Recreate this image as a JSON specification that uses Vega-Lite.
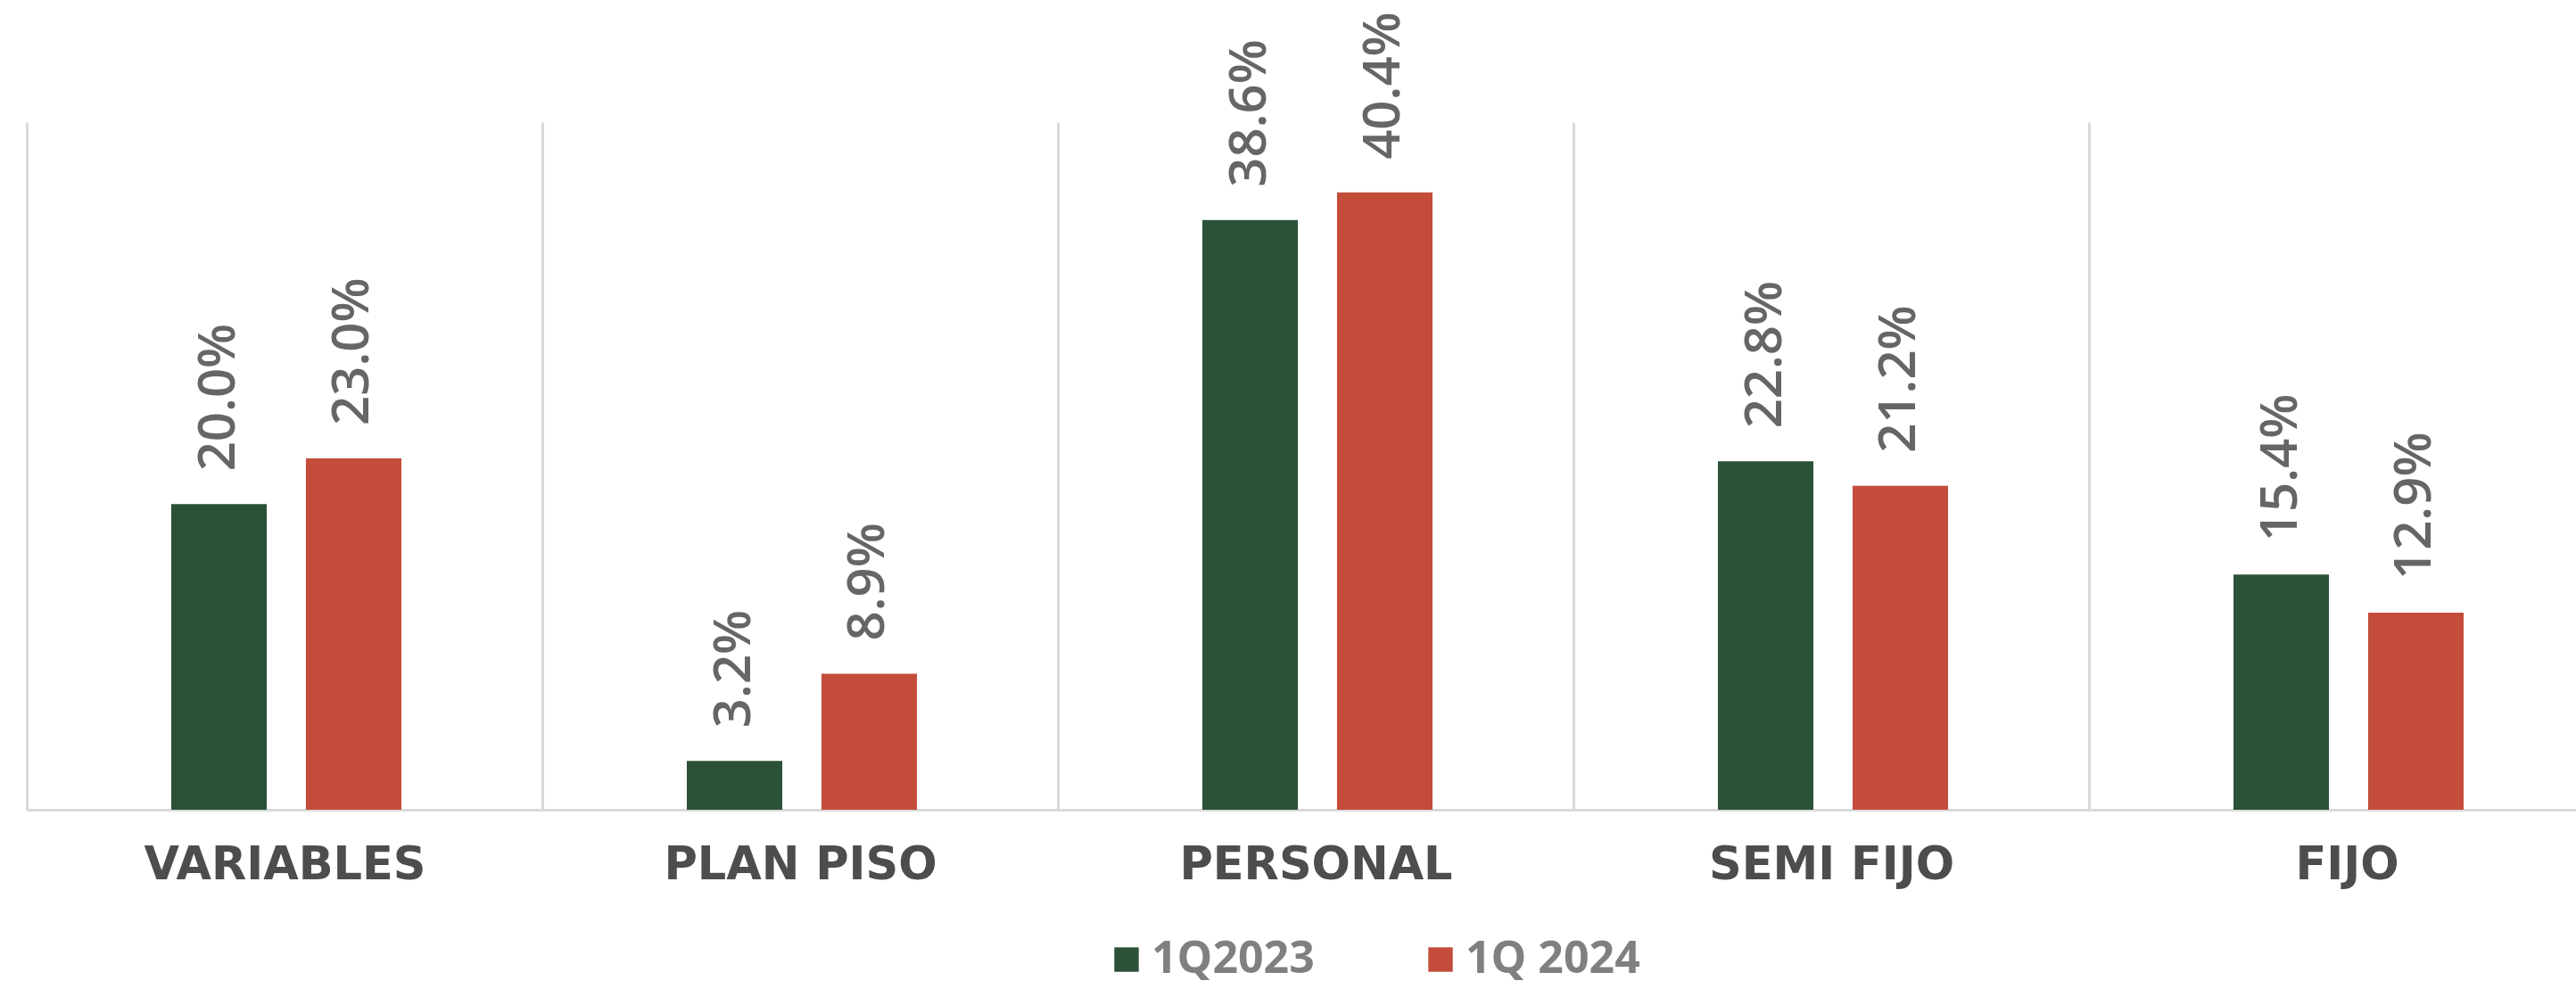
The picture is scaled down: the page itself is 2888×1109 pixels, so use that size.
{
  "$schema": "https://vega.github.io/schema/vega-lite/v6.json",
  "width": 2858,
  "height": 771,
  "autosize": {"type": "none"},
  "padding": {"left": 30, "top": 137, "right": 0, "bottom": 201},
  "background": "white",
  "config": {"view": {"stroke": null}},
  "data": {
    "values": [
      {"cat": "VARIABLES", "period": "1Q2023", "value": 0.200},
      {"cat": "VARIABLES", "period": "1Q 2024", "value": 0.230},
      {"cat": "PLAN PISO", "period": "1Q2023", "value": 0.032},
      {"cat": "PLAN PISO", "period": "1Q 2024", "value": 0.089},
      {"cat": "PERSONAL", "period": "1Q2023", "value": 0.386},
      {"cat": "PERSONAL", "period": "1Q 2024", "value": 0.404},
      {"cat": "SEMI FIJO", "period": "1Q2023", "value": 0.228},
      {"cat": "SEMI FIJO", "period": "1Q 2024", "value": 0.212},
      {"cat": "FIJO", "period": "1Q2023", "value": 0.154},
      {"cat": "FIJO", "period": "1Q 2024", "value": 0.129}
    ]
  },
  "encoding": {
    "x": {
      "field": "cat",
      "type": "nominal",
      "sort": ["VARIABLES", "PLAN PISO", "PERSONAL", "SEMI FIJO", "FIJO"],
      "scale": {"range": [0, 2890], "paddingInner": 0, "paddingOuter": 0},
      "axis": {
        "title": null,
        "labelAngle": 0,
        "labelFont": "DejaVu Sans",
        "labelFontWeight": "bold",
        "labelFontSize": 51,
        "labelLimit": 0,
        "labelColor": "#4d4d4d",
        "labelPadding": 37,
        "labelBaseline": "top",
        "ticks": false,
        "domainColor": "#d9d9d9",
        "domainWidth": 3,
        "grid": true,
        "gridColor": "#d9d9d9",
        "gridWidth": 3,
        "tickBand": "extent"
      }
    },
    "xOffset": {
      "field": "period",
      "sort": ["1Q2023", "1Q 2024"],
      "scale": {"range": [162, 420], "paddingInner": 0.291, "paddingOuter": 0}
    },
    "y": {
      "field": "value",
      "type": "quantitative",
      "scale": {"domain": [0, 0.45]},
      "axis": null
    }
  },
  "layer": [
    {
      "mark": {"type": "bar"},
      "encoding": {
        "color": {
          "field": "period",
          "type": "nominal",
          "sort": ["1Q2023", "1Q 2024"],
          "scale": {"domain": ["1Q2023", "1Q 2024"], "range": ["#2b5137", "#c44c3a"]},
          "legend": {
            "title": null,
            "orient": "none",
            "legendX": 1208,
            "legendY": 914,
            "direction": "horizontal",
            "symbolType": "square",
            "symbolSize": 750,
            "symbolStrokeWidth": 0,
            "labelFont": "Open Sans",
            "labelFontWeight": "bold",
            "labelFontSize": 50,
            "labelLimit": 0,
            "labelColor": "#808080",
            "labelOffset": 3,
            "columnPadding": 116
          }
        }
      }
    },
    {
      "mark": {
        "type": "text",
        "angle": 270,
        "align": "left",
        "baseline": "middle",
        "dx": 37,
        "font": "Open Sans",
        "fontWeight": 600,
        "fontSize": 58,
        "color": "#666666"
      },
      "encoding": {
        "text": {"field": "value", "type": "quantitative", "format": ".1%"}
      }
    }
  ]
}
